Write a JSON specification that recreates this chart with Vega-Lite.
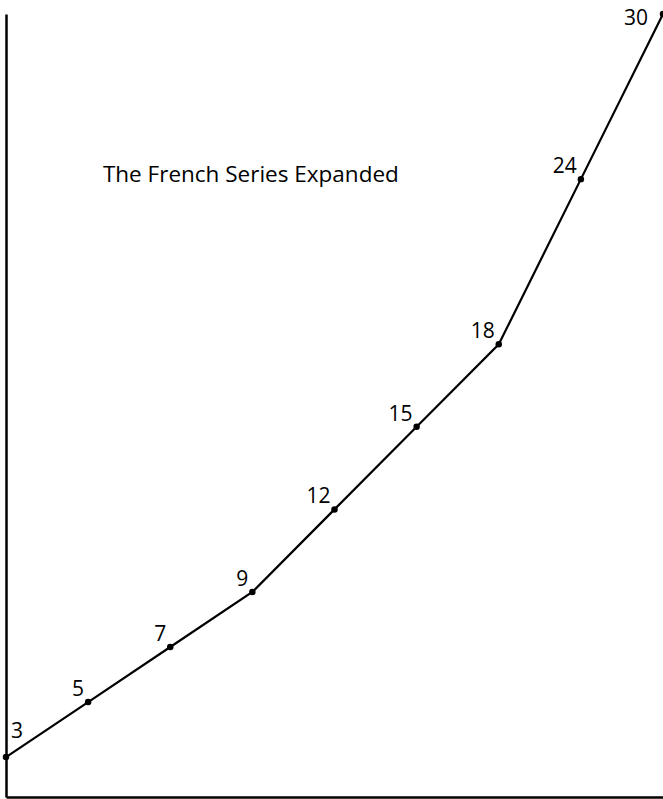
{
  "$schema": "https://vega.github.io/schema/vega-lite/v6.json",
  "width": 657,
  "height": 783,
  "autosize": {"type": "none"},
  "padding": {"left": 6, "top": 14, "right": 0, "bottom": 2},
  "background": "white",
  "config": {"view": {"stroke": null}},
  "data": {
    "values": [
      {"i": 0, "v": 3},
      {"i": 1, "v": 5},
      {"i": 2, "v": 7},
      {"i": 3, "v": 9},
      {"i": 4, "v": 12},
      {"i": 5, "v": 15},
      {"i": 6, "v": 18},
      {"i": 7, "v": 24},
      {"i": 8, "v": 30}
    ]
  },
  "encoding": {
    "x": {
      "field": "i", "type": "quantitative",
      "scale": {"domain": [0, 8], "nice": false, "zero": false},
      "axis": {"title": null, "labels": false, "ticks": false, "grid": false, "domainColor": "black", "domainWidth": 2.5}
    },
    "y": {
      "field": "v", "type": "quantitative",
      "scale": {"domain": [1.55, 30], "nice": false, "zero": false},
      "axis": {"title": null, "labels": false, "ticks": false, "grid": false, "domainColor": "black", "domainWidth": 2.5}
    }
  },
  "layer": [
    {"mark": {"type": "line", "color": "black", "strokeWidth": 2.2, "clip": false}},
    {"mark": {"type": "point", "filled": true, "color": "black", "size": 42, "opacity": 1}},
    {
      "transform": [{"filter": "datum.i > 0 && datum.i < 8"}],
      "mark": {"type": "text", "align": "right", "baseline": "alphabetic", "dx": -4, "dy": -6, "font": "Open Sans", "fontSize": 21, "fontWeight": "normal", "color": "black"},
      "encoding": {"text": {"field": "v", "type": "nominal"}}
    },
    {
      "transform": [{"filter": "datum.i == 8"}],
      "mark": {"type": "text", "align": "right", "baseline": "alphabetic", "dx": -15, "dy": 11, "font": "Open Sans", "fontSize": 21, "fontWeight": "normal", "color": "black"},
      "encoding": {"text": {"field": "v", "type": "nominal"}}
    },
    {
      "transform": [{"filter": "datum.i == 0"}],
      "mark": {"type": "text", "align": "left", "baseline": "alphabetic", "dx": 5, "dy": -19, "font": "Open Sans", "fontSize": 21, "fontWeight": "normal", "color": "black"},
      "encoding": {"text": {"field": "v", "type": "nominal"}}
    },
    {
      "transform": [{"filter": "datum.i == 0"}],
      "mark": {"type": "text", "align": "left", "baseline": "middle", "font": "Open Sans", "fontSize": 22.5, "fontWeight": "normal", "color": "black", "text": "The French Series Expanded"},
      "encoding": {
        "x": {"datum": 1.18, "type": "quantitative"},
        "y": {"datum": 24.15, "type": "quantitative"}
      }
    }
  ]
}
